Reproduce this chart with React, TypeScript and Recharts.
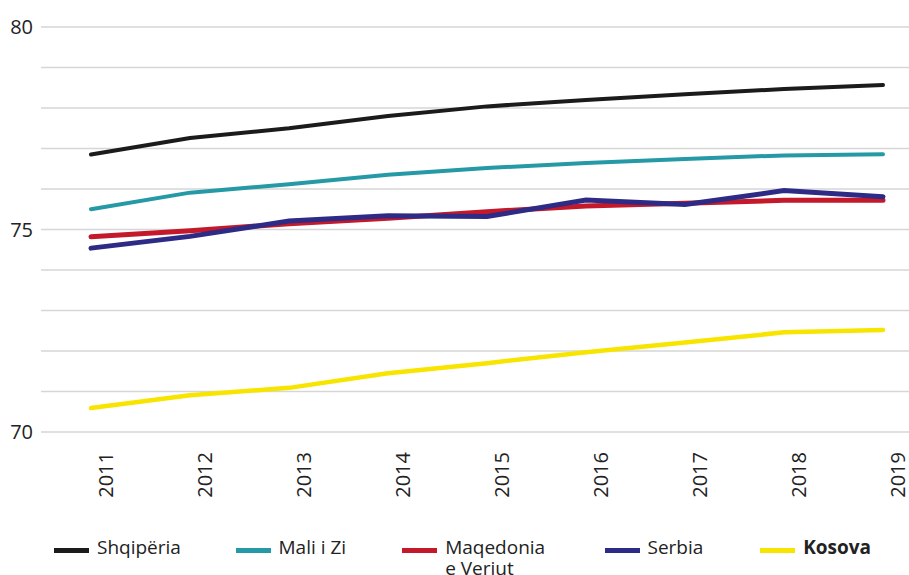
import React from 'react'
import {
    LineChart,
    Line,
    XAxis,
    YAxis,
    CartesianGrid,
    Legend,
} from 'recharts'

const years = ['2011', '2012', '2013', '2014', '2015', '2016', '2017', '2018', '2019']

const shqiperia = [76.85, 77.26, 77.5, 77.8, 78.04, 78.2, 78.34, 78.47, 78.57]
const maliIZi = [75.5, 75.91, 76.12, 76.35, 76.52, 76.64, 76.74, 76.83, 76.86]
const maqedonia = [74.82, 74.97, 75.14, 75.28, 75.44, 75.58, 75.65, 75.72, 75.72]
const serbia = [74.54, 74.83, 75.21, 75.34, 75.32, 75.73, 75.62, 75.96, 75.81]
const kosova = [70.59, 70.91, 71.09, 71.45, 71.7, 71.97, 72.21, 72.46, 72.52]

const yTicks = [70, 75, 80]
const gridValues = [70, 71, 72, 73, 74, 75, 76, 77, 78, 79, 80]

const series = [
    { key: 'shqiperia', name: 'Shqipëria', color: '#1b1b1b', width: 4 },
    { key: 'maliIZi', name: 'Mali i Zi', color: '#2599a5', width: 4 },
    { key: 'maqedonia', name: 'Maqedonia\ne Veriut', color: '#c4182b', width: 5 },
    { key: 'serbia', name: 'Serbia', color: '#2d2b85', width: 5 },
    { key: 'kosova', name: 'Kosova', color: '#f7e500', width: 4.5 },
]

const data = years.map((year, i) => ({
    year,
    shqiperia: shqiperia[i],
    maliIZi: maliIZi[i],
    maqedonia: maqedonia[i],
    serbia: serbia[i],
    kosova: kosova[i],
}))

const FONT = '"Open Sans", "Noto Sans", sans-serif'
const TEXT = '#222222'

const YearTick = (props: any) => {
    const { x, y, payload } = props
    return (
        <text
            transform={`translate(${x + 14},${y + 12}) rotate(-90)`}
            textAnchor='end'
            dominantBaseline='central'
            fontFamily={FONT}
            fontSize={20}
            fill={TEXT}
        >
            {payload.value}
        </text>
    )
}

const itemWidths = [183, 168, 204, 157, 150]

const LegendContent = () => (
    <div style={{ display: 'flex', fontFamily: FONT, fontSize: 19, color: TEXT, paddingLeft: 54 }}>
        {series.map((s, i) => (
            <div key={s.key} style={{ display: 'flex', alignItems: 'flex-start', width: itemWidths[i] }}>
                <div style={{ width: 35, height: 5, background: s.color, marginTop: 11, marginRight: 8, flexShrink: 0 }} />
                <div
                    style={{
                        whiteSpace: 'pre',
                        lineHeight: '21px',
                        fontWeight: s.key === 'kosova' ? 700 : 400,
                    }}
                >
                    {s.name}
                </div>
            </div>
        ))}
    </div>
)

const App: React.FC = () => {
    return (
        <>
            <style>{'body{margin:0;overflow:hidden}'}</style>
            <LineChart
                width={909}
                height={575}
                data={data}
                margin={{ top: 27, right: 0, left: 0, bottom: 0 }}
            >
                <CartesianGrid
                    vertical={false}
                    horizontalValues={gridValues}
                    stroke='#d6d6d6'
                    strokeWidth={1.5}
                />
                <XAxis
                    dataKey='year'
                    axisLine={false}
                    tickLine={false}
                    padding={{ left: 50, right: 26 }}
                    height={70}
                    interval={0}
                    tick={<YearTick />}
                />
                <YAxis
                    domain={[70, 80]}
                    ticks={yTicks}
                    axisLine={false}
                    tickLine={false}
                    tickSize={0}
                    tickMargin={8}
                    width={41}
                    tick={{ fontFamily: FONT, fontSize: 20, fill: TEXT }}
                />
                <Legend
                    verticalAlign='bottom'
                    height={73}
                    content={<LegendContent />}
                    wrapperStyle={{ top: 537, left: 0, width: 909 }}
                />
                {series.map((s) => (
                    <Line
                        key={s.key}
                        type='linear'
                        dataKey={s.key}
                        name={s.name}
                        stroke={s.color}
                        strokeWidth={s.width}
                        strokeLinecap='round'
                        dot={false}
                        activeDot={false}
                        isAnimationActive={false}
                    />
                ))}
            </LineChart>
        </>
    )
}

export default App
